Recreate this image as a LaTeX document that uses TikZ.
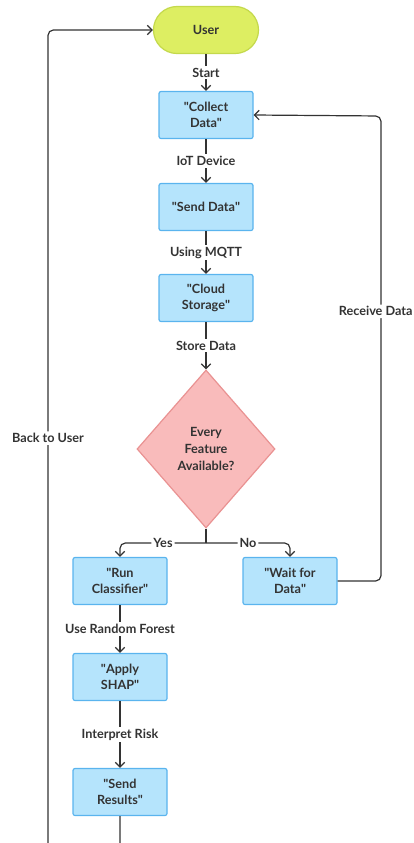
\documentclass[tikz,border=0pt]{standalone}
\usepackage{fontspec}
\setmainfont{Lato}
\usetikzlibrary{shapes.geometric,arrows.meta}

\definecolor{ink}{HTML}{333333}
\definecolor{boxfill}{HTML}{B5E4FC}
\definecolor{boxline}{HTML}{5AB4EE}
\definecolor{userfill}{HTML}{DDEE62}
\definecolor{userline}{HTML}{C4D94C}
\definecolor{decfill}{HTML}{F9BBBB}
\definecolor{decline}{HTML}{E99292}

\newcommand{\qt}{\textquotedbl}

\tikzset{
    txt/.style={font=\bfseries\fontsize{9.5}{12.5}\selectfont, text=ink},
    box/.style={txt, draw=boxline, fill=boxfill, rounded corners=1.5pt, line width=0.9pt,
        minimum width=70.5pt, minimum height=35.25pt, align=center},
    lbl/.style={txt, fill=white, inner sep=1.5pt},
    arr/.style={draw=ink, line width=0.9pt, -{Straight Barb[length=3.5pt,width=7pt]}},
    link/.style={draw=ink, line width=0.9pt}
}

\begin{document}
\begin{tikzpicture}[x=0.75pt, y=-0.75pt]
            \useasboundingbox (0, 0) rectangle (414, 843);
            \clip (0, 0) rectangle (414, 843);

            \node (user) at (206, 30)[txt, draw=userline, fill=userfill, line width=0.9pt,
                minimum width=78.75pt, minimum height=35.25pt, rounded corners=17.6pt]{User};
            \node (decide) at (206, 449)[txt, diamond, draw=decline, fill=decfill, line width=0.9pt,
                inner sep=0pt, minimum width=103.5pt, minimum height=118.5pt, align=center]{Every\\Feature\\Available?};

            \node (collect) at (206, 115)[box]{\qt Collect\\Data\qt};
            \node (senddata) at (206, 207)[box]{\qt Send Data\qt};
            \node (cloud) at (206, 298)[box]{\qt Cloud\\Storage\qt};
            \node (classify) at (120, 581)[box]{\qt Run\\Classifier\qt};
            \node (wait) at (290, 581)[box]{\qt Wait for\\Data\qt};
            \node (shap) at (120, 677)[box]{\qt Apply\\SHAP\qt};
            \node (results) at (120, 792)[box]{\qt Send\\Results\qt};

            \foreach \a/\b/\t in {user/collect/Start, collect/senddata/IoT Device,
                senddata/cloud/Using MQTT, cloud/decide/Store Data,
                classify/shap/Use Random Forest, shap/results/Interpret Risk}
                {
                    \draw[arr] (\a) -- node[lbl]{\t} (\b);
                }

            \coordinate (split) at (206, 543);
            \draw[link] (decide.south) -- (split);
            \draw[arr, rounded corners=4pt] (split) -| node[lbl, pos=0.25]{Yes} (classify.north);
            \draw[arr, rounded corners=4pt] (split) -| node[lbl, pos=0.25]{No} (wait.north);

            \coordinate (rturn) at (381, 116);
            \draw[arr, rounded corners=4pt] (wait.east) -| node[lbl, pos=0.79, xshift=-4pt, inner xsep=0.5pt]{Receive Data} (rturn) -- (collect.east);

            \coordinate (lbottom) at (48, 870);
            \coordinate (lturn) at (48, 30);
            \draw[arr, rounded corners=4pt] (results.south) |- (lbottom) -- node[lbl, pos=0.514]{Back to User} (lturn) -- (user.west);
        \end{tikzpicture}
\end{document}
